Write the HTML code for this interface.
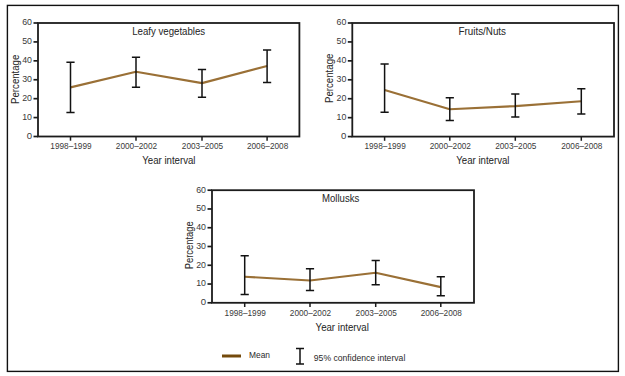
<!DOCTYPE html><html><head><meta charset="utf-8"><style>html,body{margin:0;padding:0;background:#fff;overflow:hidden;}svg{display:block;}.tk{font-family:"Liberation Sans", sans-serif;font-size:9.6px;fill:#3a3a3a;stroke:#2a2a2a;stroke-width:0.0px;}.ti{font-family:"Liberation Sans", sans-serif;font-size:10.6px;fill:#2a2a2a;stroke:#2a2a2a;stroke-width:0.05px;}.lg{font-family:"Liberation Sans", sans-serif;font-size:9.3px;fill:#2a2a2a;stroke:#2a2a2a;stroke-width:0.0px;}</style></head><body>
<svg width="625" height="376" viewBox="0 0 625 376">
<rect x="0" y="0" width="625" height="376" fill="#fff"/>
<rect x="7.4" y="5.4" width="611" height="366" fill="none" stroke="#111" stroke-width="1.4"/>
<polyline points="70.50,87.4 136.00,71.8 202.00,83.1 267.10,66" fill="none" stroke="#9a7036" stroke-width="2.15" stroke-linejoin="round"/>
<path d="M66.40,62.3H74.60M70.50,62.3V112.5M66.40,112.5H74.60" fill="none" stroke="#121212" stroke-width="1.5"/>
<path d="M131.90,57.2H140.10M136.00,57.2V87.2M131.90,87.2H140.10" fill="none" stroke="#121212" stroke-width="1.5"/>
<path d="M197.90,69.6H206.10M202.00,69.6V97.3M197.90,97.3H206.10" fill="none" stroke="#121212" stroke-width="1.5"/>
<path d="M263.00,50.1H271.20M267.10,50.1V82.4M263.00,82.4H271.20" fill="none" stroke="#121212" stroke-width="1.5"/>
<rect x="38" y="23.0" width="261.40" height="113.50" fill="none" stroke="#1c1c1c" stroke-width="1.8"/>
<line x1="33.5" y1="136.50" x2="38" y2="136.50" stroke="#1c1c1c" stroke-width="1.7"/>
<text x="32.00" y="138.90" text-anchor="end" class="tk">0</text>
<line x1="33.5" y1="117.58" x2="38" y2="117.58" stroke="#1c1c1c" stroke-width="1.7"/>
<text x="32.00" y="119.98" text-anchor="end" class="tk" textLength="9.8" lengthAdjust="spacingAndGlyphs">10</text>
<line x1="33.5" y1="98.67" x2="38" y2="98.67" stroke="#1c1c1c" stroke-width="1.7"/>
<text x="32.00" y="101.07" text-anchor="end" class="tk" textLength="9.8" lengthAdjust="spacingAndGlyphs">20</text>
<line x1="33.5" y1="79.75" x2="38" y2="79.75" stroke="#1c1c1c" stroke-width="1.7"/>
<text x="32.00" y="82.15" text-anchor="end" class="tk" textLength="9.8" lengthAdjust="spacingAndGlyphs">30</text>
<line x1="33.5" y1="60.83" x2="38" y2="60.83" stroke="#1c1c1c" stroke-width="1.7"/>
<text x="32.00" y="63.23" text-anchor="end" class="tk" textLength="9.8" lengthAdjust="spacingAndGlyphs">40</text>
<line x1="33.5" y1="41.92" x2="38" y2="41.92" stroke="#1c1c1c" stroke-width="1.7"/>
<text x="32.00" y="44.32" text-anchor="end" class="tk" textLength="9.8" lengthAdjust="spacingAndGlyphs">50</text>
<line x1="33.5" y1="23.00" x2="38" y2="23.00" stroke="#1c1c1c" stroke-width="1.7"/>
<text x="32.00" y="25.40" text-anchor="end" class="tk" textLength="9.8" lengthAdjust="spacingAndGlyphs">60</text>
<line x1="70.50" y1="136.5" x2="70.50" y2="140.7" stroke="#1c1c1c" stroke-width="1.5"/>
<text x="71.00" y="149.4" text-anchor="middle" class="tk" textLength="41.3" lengthAdjust="spacingAndGlyphs">1998–1999</text>
<line x1="136.00" y1="136.5" x2="136.00" y2="140.7" stroke="#1c1c1c" stroke-width="1.5"/>
<text x="136.50" y="149.4" text-anchor="middle" class="tk" textLength="41.3" lengthAdjust="spacingAndGlyphs">2000–2002</text>
<line x1="202.00" y1="136.5" x2="202.00" y2="140.7" stroke="#1c1c1c" stroke-width="1.5"/>
<text x="202.50" y="149.4" text-anchor="middle" class="tk" textLength="41.3" lengthAdjust="spacingAndGlyphs">2003–2005</text>
<line x1="267.10" y1="136.5" x2="267.10" y2="140.7" stroke="#1c1c1c" stroke-width="1.5"/>
<text x="267.60" y="149.4" text-anchor="middle" class="tk" textLength="41.3" lengthAdjust="spacingAndGlyphs">2006–2008</text>
<text x="132.2" y="34.8" class="ti" textLength="73" lengthAdjust="spacingAndGlyphs">Leafy vegetables</text>
<text x="142.3" y="164.2" class="ti" textLength="53.2" lengthAdjust="spacingAndGlyphs">Year interval</text>
<text transform="translate(18.5,79.30) rotate(-90)" text-anchor="middle" class="ti" textLength="49.2" lengthAdjust="spacingAndGlyphs">Percentage</text>
<polyline points="384.60,90 449.80,109.2 515.30,106.1 581.30,101.2" fill="none" stroke="#9a7036" stroke-width="2.15" stroke-linejoin="round"/>
<path d="M380.50,64.1H388.70M384.60,64.1V112.3M380.50,112.3H388.70" fill="none" stroke="#121212" stroke-width="1.5"/>
<path d="M445.70,97.7H453.90M449.80,97.7V120.6M445.70,120.6H453.90" fill="none" stroke="#121212" stroke-width="1.5"/>
<path d="M511.20,93.9H519.40M515.30,93.9V117.1M511.20,117.1H519.40" fill="none" stroke="#121212" stroke-width="1.5"/>
<path d="M577.20,88.7H585.40M581.30,88.7V114.1M577.20,114.1H585.40" fill="none" stroke="#121212" stroke-width="1.5"/>
<rect x="352.3" y="23" width="261.70" height="113.60" fill="none" stroke="#1c1c1c" stroke-width="1.8"/>
<line x1="347.8" y1="136.60" x2="352.3" y2="136.60" stroke="#1c1c1c" stroke-width="1.7"/>
<text x="346.30" y="139.00" text-anchor="end" class="tk">0</text>
<line x1="347.8" y1="117.67" x2="352.3" y2="117.67" stroke="#1c1c1c" stroke-width="1.7"/>
<text x="346.30" y="120.07" text-anchor="end" class="tk" textLength="9.8" lengthAdjust="spacingAndGlyphs">10</text>
<line x1="347.8" y1="98.73" x2="352.3" y2="98.73" stroke="#1c1c1c" stroke-width="1.7"/>
<text x="346.30" y="101.13" text-anchor="end" class="tk" textLength="9.8" lengthAdjust="spacingAndGlyphs">20</text>
<line x1="347.8" y1="79.80" x2="352.3" y2="79.80" stroke="#1c1c1c" stroke-width="1.7"/>
<text x="346.30" y="82.20" text-anchor="end" class="tk" textLength="9.8" lengthAdjust="spacingAndGlyphs">30</text>
<line x1="347.8" y1="60.87" x2="352.3" y2="60.87" stroke="#1c1c1c" stroke-width="1.7"/>
<text x="346.30" y="63.27" text-anchor="end" class="tk" textLength="9.8" lengthAdjust="spacingAndGlyphs">40</text>
<line x1="347.8" y1="41.93" x2="352.3" y2="41.93" stroke="#1c1c1c" stroke-width="1.7"/>
<text x="346.30" y="44.33" text-anchor="end" class="tk" textLength="9.8" lengthAdjust="spacingAndGlyphs">50</text>
<line x1="347.8" y1="23.00" x2="352.3" y2="23.00" stroke="#1c1c1c" stroke-width="1.7"/>
<text x="346.30" y="25.40" text-anchor="end" class="tk" textLength="9.8" lengthAdjust="spacingAndGlyphs">60</text>
<line x1="384.60" y1="136.6" x2="384.60" y2="140.79999999999998" stroke="#1c1c1c" stroke-width="1.5"/>
<text x="385.10" y="149.4" text-anchor="middle" class="tk" textLength="41.3" lengthAdjust="spacingAndGlyphs">1998–1999</text>
<line x1="449.80" y1="136.6" x2="449.80" y2="140.79999999999998" stroke="#1c1c1c" stroke-width="1.5"/>
<text x="450.30" y="149.4" text-anchor="middle" class="tk" textLength="41.3" lengthAdjust="spacingAndGlyphs">2000–2002</text>
<line x1="515.30" y1="136.6" x2="515.30" y2="140.79999999999998" stroke="#1c1c1c" stroke-width="1.5"/>
<text x="515.80" y="149.4" text-anchor="middle" class="tk" textLength="41.3" lengthAdjust="spacingAndGlyphs">2003–2005</text>
<line x1="581.30" y1="136.6" x2="581.30" y2="140.79999999999998" stroke="#1c1c1c" stroke-width="1.5"/>
<text x="581.80" y="149.4" text-anchor="middle" class="tk" textLength="41.3" lengthAdjust="spacingAndGlyphs">2006–2008</text>
<text x="458.5" y="34.8" class="ti" textLength="47.5" lengthAdjust="spacingAndGlyphs">Fruits/Nuts</text>
<text x="456.3" y="164.2" class="ti" textLength="53.2" lengthAdjust="spacingAndGlyphs">Year interval</text>
<text transform="translate(332.5,78.30) rotate(-90)" text-anchor="middle" class="ti" textLength="49.5" lengthAdjust="spacingAndGlyphs">Percentage</text>
<polyline points="244.70,276.7 310.00,280.5 375.70,272.7 440.80,287.1" fill="none" stroke="#9a7036" stroke-width="2.15" stroke-linejoin="round"/>
<path d="M240.60,255.7H248.80M244.70,255.7V294.6M240.60,294.6H248.80" fill="none" stroke="#121212" stroke-width="1.5"/>
<path d="M305.90,268.7H314.10M310.00,268.7V290.4M305.90,290.4H314.10" fill="none" stroke="#121212" stroke-width="1.5"/>
<path d="M371.60,260.4H379.80M375.70,260.4V284.8M371.60,284.8H379.80" fill="none" stroke="#121212" stroke-width="1.5"/>
<path d="M436.70,276.8H444.90M440.80,276.8V295.7M436.70,295.7H444.90" fill="none" stroke="#121212" stroke-width="1.5"/>
<rect x="212" y="190.2" width="262.00" height="112.60" fill="none" stroke="#1c1c1c" stroke-width="1.8"/>
<line x1="207.5" y1="302.80" x2="212" y2="302.80" stroke="#1c1c1c" stroke-width="1.7"/>
<text x="206.00" y="305.20" text-anchor="end" class="tk">0</text>
<line x1="207.5" y1="284.03" x2="212" y2="284.03" stroke="#1c1c1c" stroke-width="1.7"/>
<text x="206.00" y="286.43" text-anchor="end" class="tk" textLength="9.8" lengthAdjust="spacingAndGlyphs">10</text>
<line x1="207.5" y1="265.27" x2="212" y2="265.27" stroke="#1c1c1c" stroke-width="1.7"/>
<text x="206.00" y="267.67" text-anchor="end" class="tk" textLength="9.8" lengthAdjust="spacingAndGlyphs">20</text>
<line x1="207.5" y1="246.50" x2="212" y2="246.50" stroke="#1c1c1c" stroke-width="1.7"/>
<text x="206.00" y="248.90" text-anchor="end" class="tk" textLength="9.8" lengthAdjust="spacingAndGlyphs">30</text>
<line x1="207.5" y1="227.73" x2="212" y2="227.73" stroke="#1c1c1c" stroke-width="1.7"/>
<text x="206.00" y="230.13" text-anchor="end" class="tk" textLength="9.8" lengthAdjust="spacingAndGlyphs">40</text>
<line x1="207.5" y1="208.97" x2="212" y2="208.97" stroke="#1c1c1c" stroke-width="1.7"/>
<text x="206.00" y="211.37" text-anchor="end" class="tk" textLength="9.8" lengthAdjust="spacingAndGlyphs">50</text>
<line x1="207.5" y1="190.20" x2="212" y2="190.20" stroke="#1c1c1c" stroke-width="1.7"/>
<text x="206.00" y="192.60" text-anchor="end" class="tk" textLength="9.8" lengthAdjust="spacingAndGlyphs">60</text>
<line x1="244.70" y1="302.8" x2="244.70" y2="307.0" stroke="#1c1c1c" stroke-width="1.5"/>
<text x="245.20" y="316.4" text-anchor="middle" class="tk" textLength="41.3" lengthAdjust="spacingAndGlyphs">1998–1999</text>
<line x1="310.00" y1="302.8" x2="310.00" y2="307.0" stroke="#1c1c1c" stroke-width="1.5"/>
<text x="310.50" y="316.4" text-anchor="middle" class="tk" textLength="41.3" lengthAdjust="spacingAndGlyphs">2000–2002</text>
<line x1="375.70" y1="302.8" x2="375.70" y2="307.0" stroke="#1c1c1c" stroke-width="1.5"/>
<text x="376.20" y="316.4" text-anchor="middle" class="tk" textLength="41.3" lengthAdjust="spacingAndGlyphs">2003–2005</text>
<line x1="440.80" y1="302.8" x2="440.80" y2="307.0" stroke="#1c1c1c" stroke-width="1.5"/>
<text x="441.30" y="316.4" text-anchor="middle" class="tk" textLength="41.3" lengthAdjust="spacingAndGlyphs">2006–2008</text>
<text x="322" y="201.9" class="ti" textLength="37.3" lengthAdjust="spacingAndGlyphs">Mollusks</text>
<text x="315.6" y="331.2" class="ti" textLength="53.2" lengthAdjust="spacingAndGlyphs">Year interval</text>
<text transform="translate(192.8,245.30) rotate(-90)" text-anchor="middle" class="ti" textLength="47.8" lengthAdjust="spacingAndGlyphs">Percentage</text>
<line x1="222" y1="356" x2="241" y2="356" stroke="#744a0c" stroke-width="3"/>
<text x="249" y="358.1" class="lg" textLength="21" lengthAdjust="spacingAndGlyphs">Mean</text>
<path d="M296,348.4H304M300,348.4V364M296,364H304" fill="none" stroke="#121212" stroke-width="1.5"/>
<text x="313.8" y="360.6" class="lg" textLength="91.5" lengthAdjust="spacingAndGlyphs">95% confidence interval</text>
</svg></body></html>
